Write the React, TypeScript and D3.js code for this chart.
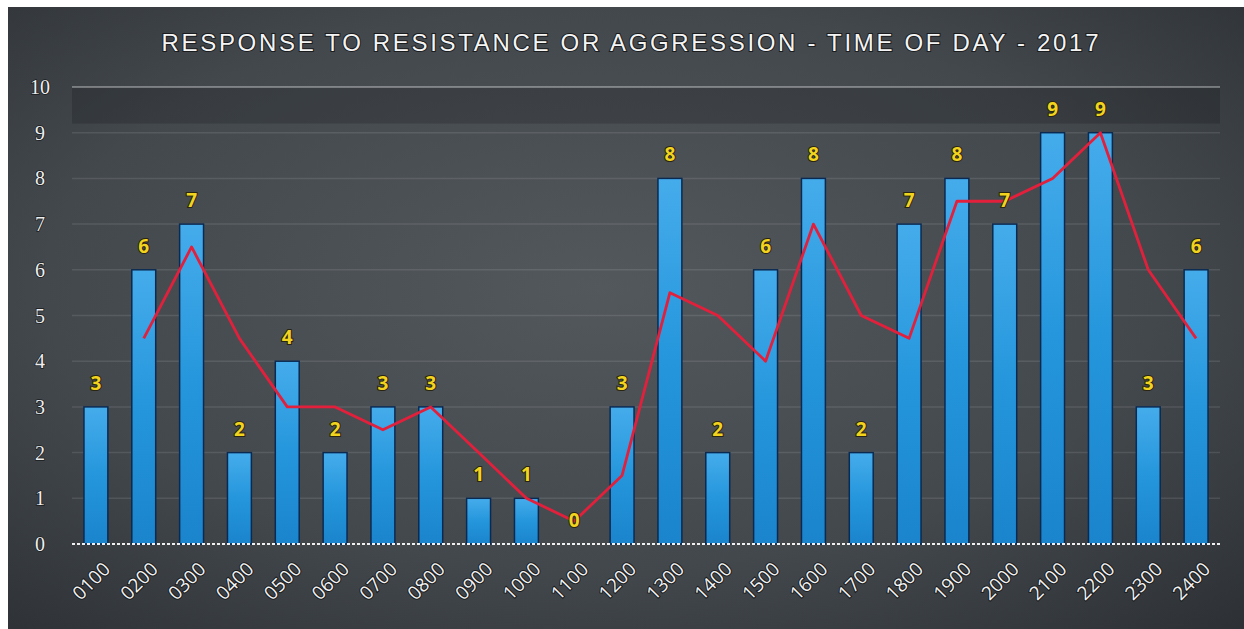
import React from "react";
import * as d3 from "d3";

const hours = ["0100","0200","0300","0400","0500","0600","0700","0800","0900","1000","1100","1200","1300","1400","1500","1600","1700","1800","1900","2000","2100","2200","2300","2400"];
const counts = [3,6,7,2,4,2,3,3,1,1,0,3,8,2,6,8,2,7,8,7,9,9,3,6];
const trendHours = ["0200","0300","0400","0500","0600","0700","0800","0900","1000","1100","1200","1300","1400","1500","1600","1700","1800","1900","2000","2100","2200","2300","2400"];
const trendValues = [4.5,6.5,4.5,3,3,2.5,3,2,1,0.5,1.5,5.5,5,4,7,5,4.5,7.5,7.5,8,9,6,4.5];
const yTicks = [0,1,2,3,4,5,6,7,8,9,10];
const title = "RESPONSE TO RESISTANCE OR AGGRESSION - TIME OF DAY - 2017";

const W = 1244, H = 629;
const left = 72, right = 1220, top = 87, bottom = 544;

export default function App() {
  const x = d3.scaleBand<string>().domain(hours).range([left, right]).paddingInner(0.5).paddingOuter(0.25);
  const y = d3.scaleLinear().domain([0, 10]).range([bottom, top]);
  const cx = (h: string) => (x(h) as number) + x.bandwidth() / 2;
  const line = d3.line<number>().x((_, i) => cx(trendHours[i])).y(d => y(d));

  return (
    <svg width={W} height={H} style={{ position: "absolute", left: 0, top: 0 }}>
      <defs>
        <radialGradient id="bg" cx="0.48" cy="0.45" r="0.75">
          <stop offset="0" stopColor="#53585d" />
          <stop offset="0.6" stopColor="#43484d" />
          <stop offset="1" stopColor="#2d3135" />
        </radialGradient>
        <linearGradient id="bar" x1="0" y1="0" x2="0" y2="1">
          <stop offset="0" stopColor="#45aceb" />
          <stop offset="0.5" stopColor="#2596dc" />
          <stop offset="1" stopColor="#1a84cc" />
        </linearGradient>
      </defs>
      <rect x={0} y={0} width={W} height={H} fill="#ffffff" />
      <rect x={8} y={7} width={W - 8} height={H - 7} fill="url(#bg)" />
      <rect x={left} y={y(10)} width={right - left} height={y(9.2) - y(10)} fill="rgba(0,0,0,0.16)" />
      <text x={630} y={51} textAnchor="middle" fontFamily="Liberation Sans, Arial, sans-serif" fontSize={24}
        fill="#f4f4f4" stroke="#1a1c1e" strokeWidth={2} paintOrder="stroke" textLength={937} lengthAdjust="spacing">{title}</text>
      {yTicks.map(t => (
        <g key={t}>
          {t > 0 && (
            <line x1={left} x2={right} y1={y(t)} y2={y(t)}
              stroke={t === 10 ? "rgba(255,255,255,0.65)" : "rgba(255,255,255,0.1)"} strokeWidth={t === 10 ? 1.2 : 1.5} />
          )}
          <text x={40} y={y(t) + 7} textAnchor="middle" fontFamily="Liberation Serif, Times New Roman, serif" fontSize={20}
            fill="#eeeeee" stroke="#1a1c1e" strokeWidth={1.5} paintOrder="stroke">{t}</text>
        </g>
      ))}
      {counts.map((v, i) => (
        <rect key={hours[i]} x={x(hours[i]) as number} y={y(v)} width={x.bandwidth()} height={y(0) - y(v)}
          fill="url(#bar)" stroke="#0b2a52" strokeWidth={1.5} />
      ))}
      <line x1={left} x2={right} y1={bottom} y2={bottom} stroke="#f0f0f0" strokeWidth={2} strokeDasharray="3,2" />
      <path d={line(trendValues) || ""} fill="none" stroke="#e3203c" strokeWidth={2.8} strokeLinejoin="round" />
      {counts.map((v, i) => (
        <text key={"l" + hours[i]} x={cx(hours[i])} y={y(v) - 17} textAnchor="middle"
          fontFamily="Open Sans, Liberation Sans, sans-serif" fontWeight="bold" fontSize={19}
          fill="#f2d41e" stroke="#2a2510" strokeWidth={2} paintOrder="stroke">{v}</text>
      ))}
      {hours.map(h => (
        <text key={"x" + h} transform={`translate(${cx(h) + 6},${561}) rotate(-45)`} textAnchor="end" dy="0.7em"
          fontFamily="Open Sans, Liberation Sans, sans-serif" fontSize={19}
          fill="#f2f2f2" stroke="#1a1c1e" strokeWidth={2} paintOrder="stroke">{h}</text>
      ))}
    </svg>
  );
}
